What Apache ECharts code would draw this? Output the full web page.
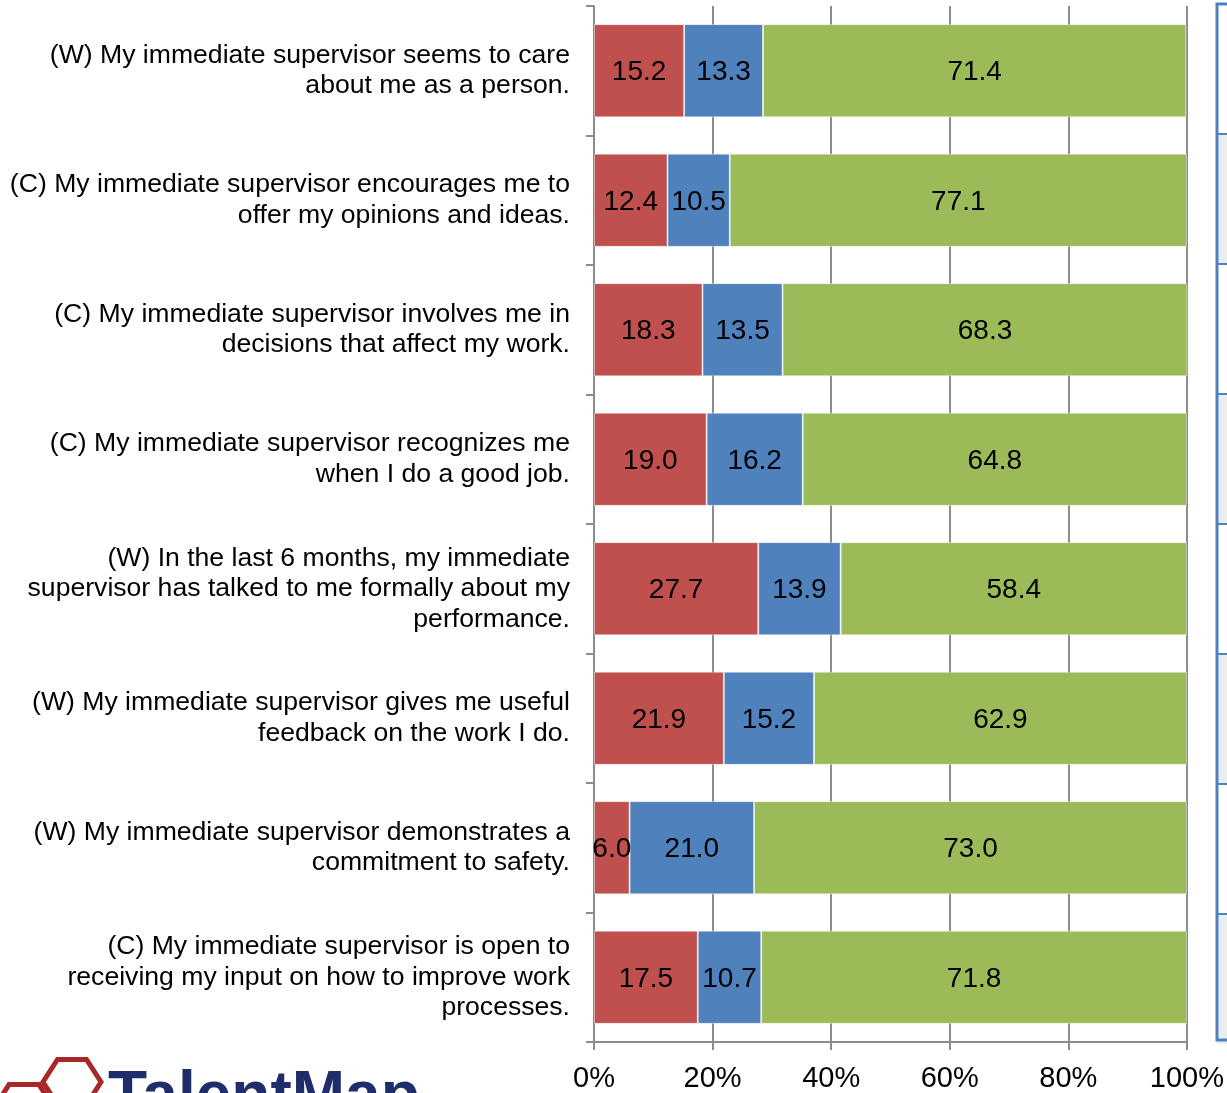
<!DOCTYPE html>
<html>
<head>
<meta charset="utf-8">
<script src="https://cdn.jsdelivr.net/npm/echarts@6/dist/echarts.min.js"></script>
<style>
  html, body { margin: 0; padding: 0; background: #fff; }
  #chart { width: 1227px; height: 1093px; }
</style>
</head>
<body>
<div id="chart"></div>
<script>
var questions = [
    '(W) My immediate supervisor seems to care\nabout me as a person.',
    '(C) My immediate supervisor encourages me to\noffer my opinions and ideas.',
    '(C) My immediate supervisor involves me in\ndecisions that affect my work.',
    '(C) My immediate supervisor recognizes me\nwhen I do a good job.',
    '(W) In the last 6 months, my immediate\nsupervisor has talked to me formally about my\nperformance.',
    '(W) My immediate supervisor gives me useful\nfeedback on the work I do.',
    '(W) My immediate supervisor demonstrates a\ncommitment to safety.',
    '(C) My immediate supervisor is open to\nreceiving my input on how to improve work\nprocesses.'
];
var redData   = [15.2, 12.4, 18.3, 19.0, 27.7, 21.9, 6.0, 17.5];
var blueData  = [13.3, 10.5, 13.5, 16.2, 13.9, 15.2, 21.0, 10.7];
var greenData = [71.4, 77.1, 68.3, 64.8, 58.4, 62.9, 73.0, 71.8];

var FONT = 'Liberation Sans, Arial, sans-serif';

var mkSeries = function(name, data, color){
    return {
        name: name,
        type: 'bar',
        stack: 'all',
        data: data,
        barWidth: '72%',
        itemStyle: { color: color, borderColor: 'rgba(255,255,255,0.45)', borderWidth: 1 },
        label: {
            show: true,
            position: 'inside',
            color: '#000',
            fontFamily: FONT,
            fontSize: 28,
            offset: [0, 2],
            formatter: function(p){ return p.value.toFixed(1); }
        }
    };
};

// striped table edge on the right side
var panel = [];
var rowH = 130;
for (var i = 0; i < 8; i++) {
    panel.push({
        type: 'rect',
        shape: { x: 1217, y: 4 + i * rowH, width: 20, height: rowH },
        style: { fill: i % 2 ? '#e9edf4' : '#ffffff' }
    });
    if (i > 0) {
        panel.push({
            type: 'line',
            shape: { x1: 1217, y1: 4 + i * rowH, x2: 1227, y2: 4 + i * rowH },
            style: { stroke: '#4f81bd', lineWidth: 2 }
        });
    }
}
panel.push({
    type: 'rect',
    shape: { x: 1217, y: 4, width: 20, height: 1036 },
    style: { fill: null, stroke: '#4f81bd', lineWidth: 3 }
});

// logo at bottom left, partially cut off
var hex = function(cx, cy, r){
    var pts = [];
    for (var k = 0; k < 6; k++) {
        var a = Math.PI / 3 * k;
        pts.push([cx + r * Math.cos(a), cy + r * Math.sin(a) * 0.9]);
    }
    return pts;
};
panel.push({
    type: 'polygon', shape: { points: hex(72, 1082, 29) },
    style: { fill: null, stroke: '#a8282a', lineWidth: 5 }
});
panel.push({
    type: 'polygon', shape: { points: hex(24, 1108, 30) },
    style: { fill: null, stroke: '#a8282a', lineWidth: 5 }
});
panel.push({
    type: 'text', left: 108, top: 1066,
    style: { text: 'TalentMap', font: 'bold 64px ' + FONT, fill: '#1f2d6b' }
});

var option = {
    animation: false,
    grid: { left: 594, right: 39, top: 6, bottom: 51, containLabel: false },
    xAxis: {
        type: 'value',
        min: 0,
        max: 100,
        interval: 20,
        axisLine: { show: true, lineStyle: { color: '#8c8c8c', width: 2 } },
        axisTick: { show: true, length: 8, lineStyle: { color: '#8c8c8c', width: 2 } },
        splitLine: { show: true, lineStyle: { color: '#8c8c8c', width: 2 } },
        axisLabel: {
            color: '#000', fontFamily: FONT, fontSize: 29, margin: 22,
            formatter: '{value}%'
        }
    },
    yAxis: {
        type: 'category',
        inverse: true,
        data: questions,
        axisLine: { show: true, lineStyle: { color: '#8c8c8c', width: 2 } },
        axisTick: { show: true, length: 8, lineStyle: { color: '#8c8c8c', width: 2 } },
        axisLabel: {
            color: '#000', fontFamily: FONT, fontSize: 26.6, lineHeight: 30.5,
            margin: 24, align: 'right', padding: [6, 0, 0, 0]
        }
    },
    series: [
        mkSeries('red', redData, '#c0504d'),
        mkSeries('blue', blueData, '#4f81bd'),
        mkSeries('green', greenData, '#9bbb59')
    ],
    graphic: panel
};

var myChart = echarts.init(document.getElementById('chart'));
myChart.setOption(option);
</script>
</body>
</html>
